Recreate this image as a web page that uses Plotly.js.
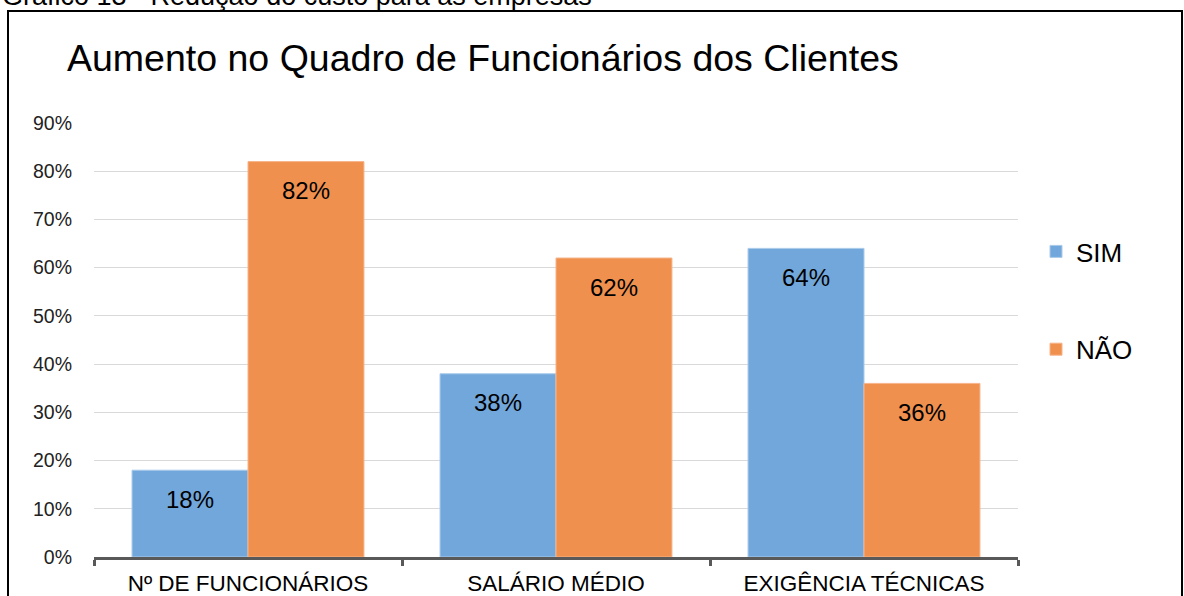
<!DOCTYPE html>
<html>
<head>
<meta charset="utf-8">
<script src="https://cdn.plot.ly/plotly-3.0.1.min.js"></script>
<style>html,body{margin:0;padding:0;background:#fff;overflow:hidden}#chart{width:1184px;height:596px}</style>
</head>
<body>
<div id="chart"></div>
<script>
const categories = ["Nº DE FUNCIONÁRIOS", "SALÁRIO MÉDIO", "EXIGÊNCIA TÉCNICAS"];
const simValues = [0.18, 0.38, 0.64];
const naoValues = [0.82, 0.62, 0.36];
const seriesNames = ["SIM", "NÃO"];
const chartTitle = "Aumento no Quadro de Funcionários dos Clientes";
const captionText = "Gráfico 13 - Redução do custo para as empresas";

const W = 1184, H = 596;
const L = 94, R = 166, T = 123, B = 39;
const pw = W - L - R, ph = H - T - B;
const px = v => (v - L) / pw;
const py = v => (H - B - v) / ph;

const FONT = "Liberation Sans, Arial, sans-serif";
const blue = "#72A7DB", orange = "#F0904F";

const traces = [
  {type: "bar", name: seriesNames[0], x: categories, y: simValues, legendgroup: "a",
   marker: {color: blue, line: {color: "#A9CAEB", width: 1}}, hoverinfo: "skip"},
  {type: "bar", name: seriesNames[1], x: categories, y: naoValues, legendgroup: "b",
   marker: {color: orange, line: {color: "#F6B48A", width: 1}}, hoverinfo: "skip"}
];

const off = 0.1885;
const annotations = [];
categories.forEach((c, i) => {
  [[simValues, -off], [naoValues, off]].forEach(([arr, o]) => {
    annotations.push({x: i + o, y: arr[i], xref: "x", yref: "y",
      text: Math.round(arr[i] * 100) + "%", showarrow: false,
      yanchor: "middle", yshift: -29, font: {family: FONT, size: 24, color: "#000"}});
  });
});
annotations.push({xref: "paper", yref: "paper", x: px(0), y: py(6), xanchor: "left", yanchor: "bottom",
  yshift: -7, text: captionText, showarrow: false, font: {family: FONT, size: 27, color: "#000"}});

const layout = {
  width: W, height: H,
  margin: {l: L, r: R, t: T, b: B},
  paper_bgcolor: "#fff", plot_bgcolor: "#fff",
  title: {text: chartTitle, xref: "container", yref: "container", x: 67 / W, xanchor: "left",
    y: 1 - 58 / H, yanchor: "middle", font: {family: FONT, size: 37.5, color: "#000"}},
  barmode: "group", bargap: 0.247, bargroupgap: 0,
  xaxis: {type: "category", showgrid: false, showline: true, linecolor: "#595959", linewidth: 3,
    ticks: "outside", tickson: "boundaries", ticklen: 6, tickwidth: 3, tickcolor: "#595959",
    tickfont: {family: FONT, size: 22.5, color: "#000"}, ticklabelstandoff: 4, fixedrange: true},
  yaxis: {range: [0, 0.9], dtick: 0.1, tickformat: ".0%", showgrid: true, gridcolor: "#D9D9D9",
    gridwidth: 1, zeroline: false, showline: false, ticks: "", ticklabelstandoff: 21,
    tickfont: {family: FONT, size: 19.5, color: "#222"}, fixedrange: true},
  legend: {x: px(1036), xanchor: "left", y: py(228), yanchor: "top", traceorder: "grouped",
    tracegroupgap: 61, font: {family: FONT, size: 26, color: "#000"}, bgcolor: "rgba(0,0,0,0)"},
  annotations: annotations,
  shapes: [{type: "rect", xref: "paper", yref: "paper", x0: px(8), x1: px(1182), y0: py(640), y1: py(11),
    line: {color: "#000", width: 2}, fillcolor: "rgba(0,0,0,0)", layer: "below"}]
};

Plotly.newPlot("chart", traces, layout, {displayModeBar: false, staticPlot: true});
</script>
</body>
</html>
